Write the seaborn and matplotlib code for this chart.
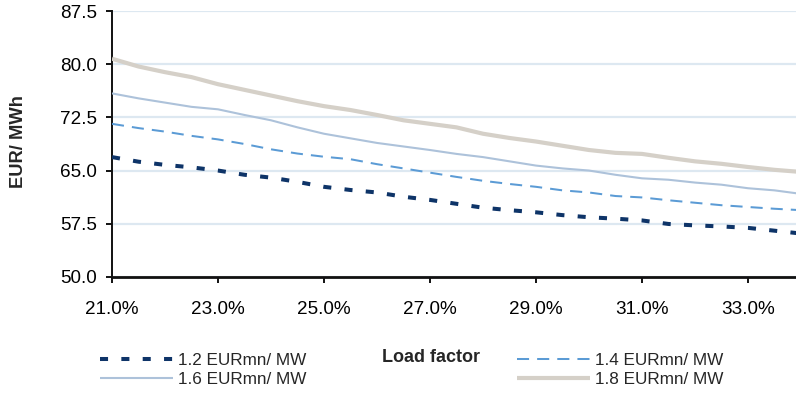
import numpy as np
import pandas as pd
import matplotlib
matplotlib.use("Agg")
import matplotlib.pyplot as plt
import seaborn as sns
from matplotlib.ticker import FixedLocator, FuncFormatter

# ---- data ----
load_factor = [21.0, 21.5, 22.0, 22.5, 23.0, 23.5, 24.0, 24.5, 25.0, 25.5, 26.0, 26.5, 27.0,
               27.5, 28.0, 28.5, 29.0, 29.5, 30.0, 30.5, 31.0, 31.5, 32.0, 32.5, 33.0, 33.5, 34.0]
cost_12 = [66.9, 66.25, 65.8, 65.45, 65.0, 64.4, 64.0, 63.4, 62.7, 62.25, 61.9, 61.3, 60.85,
           60.3, 59.75, 59.4, 59.1, 58.7, 58.4, 58.2, 57.95, 57.45, 57.25, 57.1, 56.9, 56.5, 56.1]
cost_14 = [71.6, 71.0, 70.5, 69.9, 69.4, 68.75, 68.0, 67.4, 66.95, 66.6, 65.9, 65.3, 64.7,
           64.1, 63.55, 63.1, 62.7, 62.2, 61.9, 61.4, 61.2, 60.8, 60.45, 60.1, 59.85, 59.6, 59.4]
cost_16 = [75.9, 75.2, 74.6, 74.0, 73.65, 72.85, 72.1, 71.1, 70.2, 69.55, 68.9, 68.4, 67.9,
           67.35, 66.9, 66.3, 65.7, 65.3, 65.0, 64.4, 63.9, 63.7, 63.3, 63.0, 62.5, 62.2, 61.7]
cost_18 = [80.8, 79.7, 78.9, 78.2, 77.2, 76.4, 75.6, 74.8, 74.1, 73.55, 72.85, 72.1, 71.6,
           71.1, 70.2, 69.6, 69.1, 68.5, 67.9, 67.5, 67.35, 66.8, 66.3, 65.95, 65.5, 65.1, 64.8]
series_labels = ["1.2 EURmn/ MW", "1.4 EURmn/ MW", "1.6 EURmn/ MW", "1.8 EURmn/ MW"]
x_ticks = [21, 23, 25, 27, 29, 31, 33]
y_ticks = [50.0, 57.5, 65.0, 72.5, 80.0, 87.5]

sns.set_theme(style="white")
plt.rcParams["font.family"] = ["Liberation Sans", "DejaVu Sans"]

W, H = 796, 394
fig = plt.figure(figsize=(W / 100, H / 100), dpi=100)
ax = fig.add_axes([112 / W, 1 - 276.7 / H, (W - 112) / W, (276.7 - 11.3) / H])

df = pd.DataFrame({"lf": load_factor, "c12": cost_12, "c14": cost_14,
                   "c16": cost_16, "c18": cost_18})

styles = [
    ("c12", "#0e3468", 2.9, (0, (2.0, 3.3))),
    ("c14", "#5b9bd5", 1.45, (0, (6.0, 4.0))),
    ("c16", "#adc2da", 1.5, "-"),
    ("c18", "#d5d0c8", 3.0, "-"),
]
handles = {}
for (col, color, lw, ls), lab in zip(styles, series_labels):
    sns.lineplot(data=df, x="lf", y=col, ax=ax, color=color, linewidth=lw,
                 linestyle=ls, dash_capstyle="butt", solid_capstyle="butt", zorder=3)
    handles[lab] = ax.lines[-1]

ax.set_xlim(21, 21 + (W - 112) / 53.0)
ax.set_ylim(50, 87.5)
ax.xaxis.set_major_locator(FixedLocator(x_ticks))
ax.xaxis.set_major_formatter(FuncFormatter(lambda v, p: f"{v:.1f}%"))
ax.yaxis.set_major_locator(FixedLocator(y_ticks))
ax.yaxis.set_major_formatter(FuncFormatter(lambda v, p: f"{v:.1f}"))
ax.tick_params(axis="both", which="major", labelsize=13.6, colors="#000000",
               length=6 * 0.72, width=1.3, direction="out")
ax.tick_params(axis="y", pad=6.5, left=True)
ax.tick_params(axis="x", pad=13.0, bottom=True)

ax.grid(axis="y", color="#dde8f1", linewidth=1.6, zorder=0)
ax.grid(axis="x", visible=False)
for s in ["top", "right"]:
    ax.spines[s].set_visible(False)
ax.spines["left"].set_color("#111111")
ax.spines["left"].set_linewidth(1.4)
ax.spines["bottom"].set_color("#111111")
ax.spines["bottom"].set_linewidth(2.0)
ax.set_xlabel("")
ax.set_ylabel("")

fig.text(19 / W, 1 - 142 / H, "EUR/ MWh", rotation=90, ha="center", va="center",
         fontsize=13.2, fontweight="bold")
fig.text(431 / W, 1 - 357 / H, "Load factor", ha="center", va="center",
         fontsize=13.0, fontweight="bold")

leg_kw = dict(frameon=False, fontsize=12.3, handlelength=4.3, handletextpad=0.28,
              labelspacing=0.2, borderpad=0, borderaxespad=0, loc="center left")
l1 = fig.legend([handles[series_labels[0]], handles[series_labels[2]]],
                [series_labels[0], series_labels[2]],
                bbox_to_anchor=(100 / W, 1 - 370 / H), **leg_kw)
l2 = fig.legend([handles[series_labels[1]], handles[series_labels[3]]],
                [series_labels[1], series_labels[3]],
                bbox_to_anchor=(517 / W, 1 - 370 / H), **leg_kw)

fig.savefig("out.png", dpi=100)
